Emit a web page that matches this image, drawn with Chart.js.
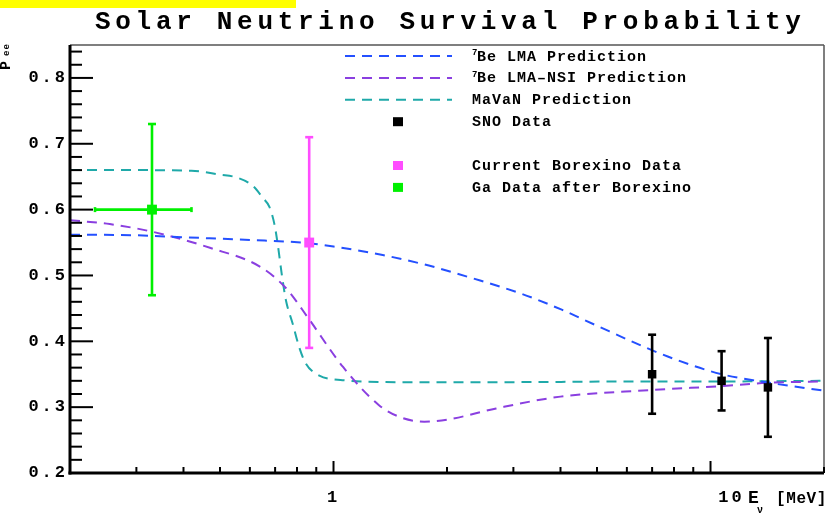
<!DOCTYPE html>
<html>
<head>
<meta charset="utf-8">
<script src="https://cdn.jsdelivr.net/npm/chart.js@4.4.1/dist/chart.umd.min.js"></script>
<style>
  html, body { margin: 0; padding: 0; background: #ffffff; }
  canvas { display: block; }
</style>
</head>
<body>
<canvas id="pee" width="831" height="517"></canvas>
<script>
// ---- Predicted survival probability P_ee versus neutrino energy (MeV) ----
const lmaEnergy = [0.2, 0.3, 0.4, 0.6, 0.86, 1.0, 1.35, 1.79, 2.33, 3.16, 4.03, 4.94, 6.7, 8.2, 10.7, 13.6, 20];
const lmaPee    = [0.562, 0.561, 0.558, 0.554, 0.549, 0.544, 0.531, 0.515, 0.496, 0.472, 0.448, 0.425, 0.391, 0.371, 0.350, 0.339, 0.325];

const nsiEnergy = [0.2, 0.255, 0.333, 0.47, 0.64, 0.75, 0.86, 1.06, 1.32, 1.5, 1.74, 2.0, 2.7, 4.0, 7.0, 10.7, 14.2, 20];
const nsiPee    = [0.584, 0.578, 0.566, 0.542, 0.513, 0.480, 0.434, 0.361, 0.303, 0.285, 0.278, 0.281, 0.298, 0.316, 0.326, 0.332, 0.337, 0.339];

const mavanEnergy = [0.2, 0.3, 0.42, 0.5, 0.552, 0.611, 0.649, 0.676, 0.697, 0.711, 0.731, 0.748, 0.779, 0.811, 0.845, 0.917, 1.056, 1.5, 3.0, 6.0, 10, 20];
const mavanPee    = [0.660, 0.660, 0.659, 0.653, 0.649, 0.636, 0.618, 0.604, 0.578, 0.548, 0.497, 0.462, 0.427, 0.391, 0.366, 0.348, 0.341, 0.338, 0.338, 0.339, 0.339, 0.340];

// ---- Measurements ----
const snoEnergy = [7.0, 10.7, 14.2];
const snoPee    = [0.35, 0.34, 0.33];
const snoErr    = [0.06, 0.045, 0.075];

const borexinoEnergy = [0.862];
const borexinoPee    = [0.55];
const borexinoErr    = [0.16];

const gaEnergy     = [0.33];
const gaPee        = [0.60];
const gaErr        = [0.13];
const gaEnergyLow  = [0.233];
const gaEnergyHigh = [0.42];

// ---- Axis tick labels ----
const yTickValues = [0.2, 0.3, 0.4, 0.5, 0.6, 0.7, 0.8];
const xTickValues = [1, 10];
const xTickLabels = ['1', '10'];

const MONO = '"Liberation Mono", "DejaVu Sans Mono", monospace';

function pts(xs, ys) { return xs.map((x, i) => ({ x: x, y: ys[i] })); }

function curve(label, xs, ys, color) {
  return {
    type: 'line', label: label, data: pts(xs, ys),
    borderColor: color, borderWidth: 2, borderDash: [10, 7],
    pointRadius: 0, fill: false, cubicInterpolationMode: 'monotone', order: 2
  };
}

function marker(label, xs, ys, color, radius, extra) {
  return Object.assign({
    type: 'scatter', label: label, data: pts(xs, ys),
    backgroundColor: color, borderColor: color, borderWidth: 0,
    pointStyle: 'rect', pointRadius: radius, pointHoverRadius: radius, order: 1
  }, extra);
}

const datasets = [
  curve('⁷Be LMA Prediction', lmaEnergy, lmaPee, '#2450ff'),
  curve('⁷Be LMA–NSI Prediction', nsiEnergy, nsiPee, '#8a3fe0'),
  curve('MaVaN Prediction', mavanEnergy, mavanPee, '#1fa9a9'),
  marker('SNO Data', snoEnergy, snoPee, '#000000', 6, { errY: snoErr }),
  marker('Current Borexino Data', borexinoEnergy, borexinoPee, '#ff4dff', 7, { errY: borexinoErr }),
  marker('Ga Data after Borexino', gaEnergy, gaPee, '#00f000', 7,
         { errY: gaErr, errXLow: gaEnergyLow, errXHigh: gaEnergyHigh })
];

// text helper with optional letter spacing
function text(ctx, s, x, y, size, opt) {
  opt = opt || {};
  ctx.save();
  ctx.font = 'bold ' + size + 'px ' + MONO;
  ctx.fillStyle = opt.color || '#000';
  ctx.textAlign = opt.align || 'left';
  ctx.textBaseline = opt.baseline || 'alphabetic';
  ctx.letterSpacing = (opt.spacing || 0) + 'px';
  ctx.fillText(s, x, y);
  const w = ctx.measureText(s).width;
  ctx.restore();
  return w;
}

function line(ctx, x1, y1, x2, y2) {
  ctx.beginPath(); ctx.moveTo(x1, y1); ctx.lineTo(x2, y2); ctx.stroke();
}

const decorations = {
  id: 'decorations',
  beforeDraw(chart) {
    const ctx = chart.ctx;
    ctx.save();
    ctx.fillStyle = '#ffff00';
    ctx.fillRect(0, 0, 296, 8);
    ctx.restore();
    ctx.letterSpacing = '3px';      // spacing for the value labels on the P_ee axis
  },
  beforeDatasetsDraw(chart) {
    chart.ctx.letterSpacing = '0px';
  },
  beforeDatasetDraw(chart, args) {
    // error bars of the measurements, drawn just under their markers
    const ds = chart.data.datasets[args.index];
    if (!ds.errY) return;
    const ctx = chart.ctx, xs = chart.scales.x, ys = chart.scales.y;
    ctx.save();
    ctx.strokeStyle = ds.borderColor;
    ctx.lineWidth = 2.6;
    ctx.setLineDash([]);
    ds.data.forEach((p, i) => {
      const px = xs.getPixelForValue(p.x);
      const yt = ys.getPixelForValue(p.y + ds.errY[i]);
      const yb = ys.getPixelForValue(p.y - ds.errY[i]);
      line(ctx, px, yt, px, yb);
      line(ctx, px - 4, yt, px + 4, yt);
      line(ctx, px - 4, yb, px + 4, yb);
      if (ds.errXLow) {
        const py = ys.getPixelForValue(p.y);
        const xl = xs.getPixelForValue(ds.errXLow[i]);
        const xr = xs.getPixelForValue(ds.errXHigh[i]);
        line(ctx, xl, py, xr, py);
        line(ctx, xl, py - 2.5, xl, py + 2.5);
        line(ctx, xr, py - 2.5, xr, py + 2.5);
      }
    });
    ctx.restore();
  },
  afterDraw(chart) {
    const ctx = chart.ctx, a = chart.chartArea;
    const xs = chart.scales.x, ys = chart.scales.y;
    ctx.save();
    ctx.setLineDash([]);

    // frame: thin grey top/right, heavy axes left/bottom
    ctx.strokeStyle = '#555555';
    ctx.lineWidth = 1.5;
    line(ctx, a.left, a.top, a.right, a.top);
    line(ctx, a.right, a.top, a.right, a.bottom);

    // inward ticks on the P_ee axis
    ctx.strokeStyle = '#000';
    ctx.lineWidth = 2;
    for (let k = 0; ; k++) {
      const v = ys.min + k * 0.02;
      if (v > ys.max + 1e-9) break;
      const major = k % 5 === 0;
      const py = ys.getPixelForValue(v);
      line(ctx, a.left, py, a.left + (major ? 23 : 12), py);
    }
    // inward ticks on the energy axis (log decades)
    [0.1, 1, 10].forEach(dec => {
      for (let m = 1; m <= 9; m++) {
        const v = m * dec;
        if (v < xs.min - 1e-9 || v > xs.max + 1e-9) continue;
        const px = xs.getPixelForValue(v);
        line(ctx, px, a.bottom, px, a.bottom - (m === 1 ? 12 : 6));
      }
    });

    ctx.lineWidth = 3;
    line(ctx, a.left, a.top, a.left, a.bottom + 1.5);
    line(ctx, a.left - 1.5, a.bottom, a.right, a.bottom);

    // energy axis labels
    const shift = [0, 21];
    xTickValues.forEach((v, i) => {
      text(ctx, xTickLabels[i], xs.getPixelForValue(v) + shift[i], 502, 17,
           { align: 'center', spacing: 3 });
    });

    // title
    text(ctx, 'Solar Neutrino Survival Probability', 95, 28.5, 26, { spacing: 4.7 });

    // energy axis title: E_nu [MeV]
    text(ctx, 'E', 748, 503, 18, {});
    text(ctx, 'ν', 757, 513, 10, {});
    text(ctx, '[MeV]', 827, 503, 16, { align: 'right', spacing: 0.6 });

    // P_ee axis title, rotated
    ctx.save();
    ctx.translate(10, 70);
    ctx.rotate(-Math.PI / 2);
    text(ctx, 'P', 0, 0, 15, {});
    text(ctx, 'ee', 14, -1.5, 9, { spacing: 1 });
    ctx.restore();

    // legend
    const rows = [0, 1, 2, 3, null, 4, 5];
    rows.forEach((di, r) => {
      if (di === null) return;
      const ds = chart.data.datasets[di];
      const cy = 56 + r * 21.9;
      if (ds.type === 'line') {
        ctx.save();
        ctx.strokeStyle = ds.borderColor;
        ctx.lineWidth = 2;
        ctx.setLineDash(ds.borderDash);
        line(ctx, 345, cy, 452, cy);
        ctx.restore();
      } else {
        ctx.fillStyle = ds.backgroundColor;
        ctx.fillRect(393, cy - 4.5, 10, 9);
      }
      let label = ds.label, tx = 472;
      if (label.charAt(0) === '⁷') {
        text(ctx, '7', tx, cy - 1, 9, {});
        label = label.slice(1);
        tx = 477;
      }
      text(ctx, label, tx, cy + 4.5, 15, { spacing: 1 });
    });
    ctx.restore();
  }
};

new Chart(document.getElementById('pee'), {
  type: 'scatter',
  data: { datasets: datasets },
  options: {
    responsive: false,
    animation: false,
    events: [],
    layout: { padding: { top: 45, right: 4, left: 0, bottom: 0 } },
    plugins: { legend: { display: false }, tooltip: { enabled: false }, title: { display: false } },
    scales: {
      x: {
        type: 'logarithmic', min: 0.2, max: 20,
        grid: { display: false, drawTicks: false },
        border: { display: false },
        ticks: { display: false },
        afterFit(scale) { scale.height = 44; }
      },
      y: {
        type: 'linear', min: 0.2, max: 0.85,
        grid: { display: false, drawTicks: false },
        border: { display: false },
        afterBuildTicks(scale) { scale.ticks = yTickValues.map(v => ({ value: v })); },
        ticks: {
          color: '#000', padding: 2,
          font: { family: MONO, size: 17, weight: 'bold' },
          callback: v => Number(v).toFixed(1)
        },
        afterFit(scale) { scale.width = 70; }
      }
    }
  },
  plugins: [decorations]
});
</script>
</body>
</html>
